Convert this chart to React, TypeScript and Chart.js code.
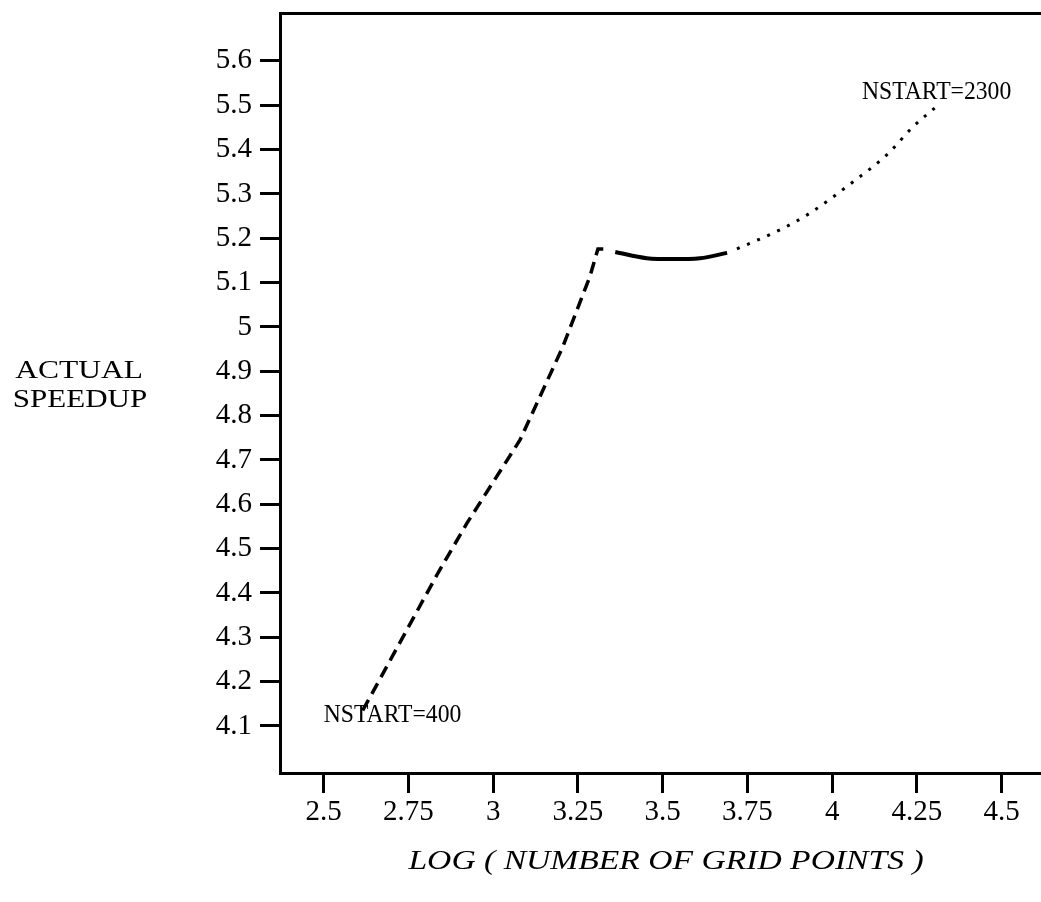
import React, { useEffect, useRef } from "react";
import { Chart, registerables } from "chart.js";

Chart.register(...registerables);

// Tick values
const xTicks = [2.5, 2.75, 3, 3.25, 3.5, 3.75, 4, 4.25, 4.5];
const yTicks = [4.1, 4.2, 4.3, 4.4, 4.5, 4.6, 4.7, 4.8, 4.9, 5, 5.1, 5.2, 5.3, 5.4, 5.5, 5.6];

// Series: dashed part (from NSTART=400)
const dashedX = [2.615, 2.837, 2.923, 3.079, 3.204, 3.285, 3.309, 3.339];
const dashedY = [4.135, 4.445, 4.558, 4.745, 4.953, 5.113, 5.176, 5.176];
// Series: solid part
const solidX = [3.36, 3.453, 3.53, 3.61, 3.69];
const solidY = [5.169, 5.155, 5.153, 5.155, 5.167];
// Series: dotted part (to NSTART=2300)
const dottedX = [3.719, 3.846, 3.935, 4.061, 4.161, 4.238, 4.312];
const dottedY = [5.176, 5.219, 5.257, 5.327, 5.388, 5.451, 5.5];

// Annotations
const annotationText = ["NSTART=400", "NSTART=2300"];
const annotationX = [2.703, 4.308];
const annotationY = [4.124, 5.529];

// Titles
const yTitleLines = ["ACTUAL", "SPEEDUP"];
const xTitle = "LOG ( NUMBER OF GRID POINTS )";

const SERIF = "'Liberation Serif', 'Times New Roman', serif";

function toPoints(xs: number[], ys: number[]) {
  return xs.map((x, i) => ({ x, y: ys[i] }));
}

function stretchedText(
  ctx: CanvasRenderingContext2D,
  text: string,
  cx: number,
  y: number,
  font: string,
  sx: number,
  baseline: CanvasTextBaseline = "alphabetic"
) {
  ctx.save();
  ctx.font = font;
  ctx.textAlign = "center";
  ctx.textBaseline = baseline;
  ctx.translate(cx, y);
  ctx.scale(sx, 1);
  ctx.fillText(text, 0, 0);
  ctx.restore();
}

const textPlugin = {
  id: "textPlugin",
  afterDraw(chart: any) {
    const ctx: CanvasRenderingContext2D = chart.ctx;
    const xs = chart.scales.x;
    const ys = chart.scales.y;
    const area = chart.chartArea;
    ctx.save();
    ctx.fillStyle = "#000";
    // annotations at data positions
    annotationText.forEach((t, i) => {
      stretchedText(
        ctx,
        t,
        xs.getPixelForValue(annotationX[i]),
        ys.getPixelForValue(annotationY[i]),
        `26px ${SERIF}`,
        0.91,
        "middle"
      );
    });
    // y title (horizontal, two lines)
    const yCx = area.left - 201;
    stretchedText(ctx, yTitleLines[0], yCx, 378, `25px ${SERIF}`, 1.26);
    stretchedText(ctx, yTitleLines[1], yCx + 1, 407, `25px ${SERIF}`, 1.24);
    // x title
    stretchedText(ctx, xTitle, area.left + 386, area.bottom + 96, `italic 28px ${SERIF}`, 1.2);
    ctx.restore();
  },
};

export default function App() {
  const ref = useRef<HTMLCanvasElement | null>(null);

  useEffect(() => {
    if (!ref.current) return;
    const chart = new Chart(ref.current, {
      type: "line",
      data: {
        datasets: [
          {
            data: toPoints(dashedX, dashedY),
            borderColor: "#000",
            borderWidth: 3.5,
            borderDash: [12, 7],
            pointRadius: 0,
            tension: 0,
            fill: false,
          },
          {
            data: toPoints(solidX, solidY),
            borderColor: "#000",
            borderWidth: 4,
            pointRadius: 0,
            cubicInterpolationMode: "monotone",
            fill: false,
          },
          {
            data: toPoints(dottedX, dottedY),
            borderColor: "#000",
            borderWidth: 3,
            borderDash: [3, 8],
            pointRadius: 0,
            cubicInterpolationMode: "monotone",
            fill: false,
          },
        ],
      },
      options: {
        responsive: false,
        animation: false,
        layout: { padding: 0 },
        plugins: {
          legend: { display: false },
          tooltip: { enabled: false },
          title: { display: false },
        },
        scales: {
          x: {
            type: "linear",
            position: "bottom",
            min: 2.371,
            max: 4.616,
            afterBuildTicks: (scale: any) => {
              scale.ticks = xTicks.map((v) => ({ value: v }));
            },
            afterFit: (scale: any) => {
              scale.height = 129;
              scale.paddingLeft = 0;
              scale.paddingRight = 0;
            },
            ticks: {
              color: "#000",
              font: { family: SERIF, size: 29 },
              padding: 2,
              maxRotation: 0,
              autoSkip: false,
              callback: (v: any) => String(v),
            },
            grid: {
              display: true,
              drawOnChartArea: false,
              drawTicks: true,
              tickLength: 20,
              lineWidth: 3,
              color: "#000",
            },
            border: { display: true, color: "#000", width: 3 },
          },
          xTop: {
            type: "linear",
            position: "top",
            min: 0,
            max: 1,
            afterFit: (scale: any) => {
              scale.height = 13;
              scale.paddingLeft = 0;
              scale.paddingRight = 0;
            },
            ticks: { display: false },
            grid: { display: false },
            border: { display: true, color: "#000", width: 3 },
          },
          y: {
            type: "linear",
            position: "left",
            min: 3.994,
            max: 5.708,
            afterBuildTicks: (scale: any) => {
              scale.ticks = yTicks.map((v) => ({ value: v }));
            },
            afterFit: (scale: any) => {
              scale.width = 280;
              scale.paddingTop = 0;
              scale.paddingBottom = 0;
            },
            ticks: {
              color: "#000",
              font: { family: SERIF, size: 29 },
              padding: 8,
              autoSkip: false,
              callback: (v: any) => String(v),
            },
            grid: {
              display: true,
              drawOnChartArea: false,
              drawTicks: true,
              tickLength: 20,
              lineWidth: 3,
              color: "#000",
            },
            border: { display: true, color: "#000", width: 3 },
          },
        },
      } as any,
      plugins: [textPlugin],
    });
    return () => chart.destroy();
  }, []);

  return (
    <div style={{ position: "fixed", left: 0, top: 0, width: 1041, height: 902, background: "#fff" }}>
      <canvas ref={ref} width={1041} height={902} style={{ display: "block" }} />
    </div>
  );
}
